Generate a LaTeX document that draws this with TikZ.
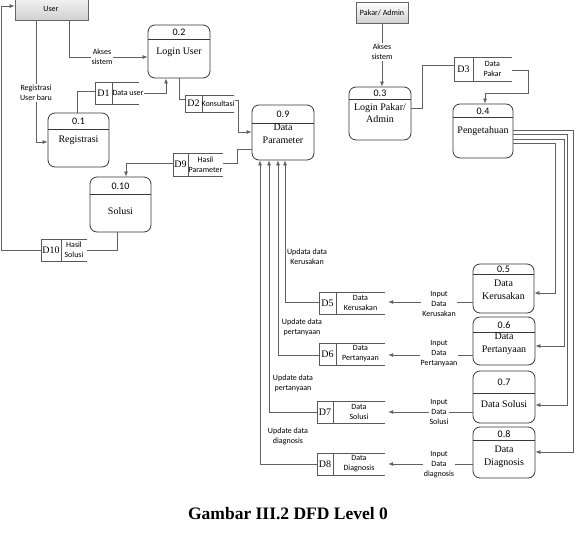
\documentclass[tikz,border=0pt]{standalone}
\usepackage{fontspec}
\setmainfont{Liberation Serif}
\newfontfamily\lblfont{Carlito}
\usetikzlibrary{arrows.meta,fit}
\tikzset{
  ln/.style={draw=black!62, line width=0.7pt},
  arr/.style={ln, -{Latex[length=5pt,width=4pt]}},
  procbox/.style={draw=black!78, line width=0.8pt, rounded corners=7pt, inner sep=0pt},
  hdr/.style={draw=black!78, line width=0.6pt},
  storeln/.style={draw=black!65, line width=0.7pt},
  numtxt/.style={font=\lblfont\fontsize{10}{12}\selectfont, inner sep=0pt},
  ptxt/.style={font=\fontsize{10}{12.5}\selectfont, align=center, inner sep=0pt},
  lbl/.style={font=\lblfont\fontsize{8}{10}\selectfont, align=center, inner sep=1pt, fill=white},
  lblnf/.style={font=\lblfont\fontsize{8}{10}\selectfont, align=center, inner sep=1pt},
  sid/.style={font=\fontsize{10}{12}\selectfont, inner sep=0pt},
  stxt/.style={font=\lblfont\fontsize{8}{10}\selectfont, align=center, inner sep=0pt},
  ext/.style={draw=black!60, line width=0.8pt, top color=white, bottom color=black!18, inner sep=0pt}
}
\newcommand\procnode[9]{%
  \node[procbox, fit={(#2,#3)(#4,#5)}] (#1) {};
  \draw[hdr] (#2,#6) -- (#4,#6);
  \node[numtxt] (#1n) at ({(#2+#4)/2},{(#3+#6)/2+0.5}) {#7};
  \node[ptxt] (#1t) at ({(#2+#4)/2},#9) {#8};
}
\newcommand\storenode[9]{%
  \node[inner sep=0pt, fit={(#2,#3)(#4,#5)}] (#1) {};
  \draw[storeln] (#4,#3) -- (#2,#3) -- (#2,#5) -- (#4,#5);
  \draw[storeln] (#6,#3) -- (#6,#5);
  \node[sid] (#1i) at ({(#2+#6)/2},{(#3+#5)/2}) {#7};
  \node[stxt] (#1t) at (#9,{(#3+#5)/2}) {#8};
}
\begin{document}
\begin{tikzpicture}[x=1pt,y=-1pt]
\useasboundingbox[fill=white] (0,0) rectangle (577,533);

% external entities
\node[ext, fit={(15,-10)(88,20)}] (user) {};
\node[stxt] (usert) at (51,9) {User};
\node[ext, fit={(356,2)(408,23)}] (pakar) {};
\node[stxt] (pakart) at (382,12.5) {Pakar/ Admin};

% processes
\procnode{p01}{48}{113}{109}{167}{129}{0.1}{Registrasi}{140}
\procnode{p02}{148}{25}{210}{78}{39}{0.2}{Login User}{52}
\procnode{p09}{252}{105}{314}{160}{123}{0.9}{Data\\Parameter}{134}
\procnode{p10}{90}{177}{151}{232}{194}{0.10}{Solusi}{211}
\procnode{p03}{349}{87}{411}{140}{99}{0.3}{Login Pakar/\\Admin}{113}
\procnode{p04}{453}{104}{513}{158}{117}{0.4}{Pengetahuan}{131}
\procnode{p05}{473}{264}{534}{313}{274}{0.5}{Data\\Kerusakan}{290}
\procnode{p06}{473}{317}{535}{365}{332}{0.6}{Data\\Pertanyaan}{344}
\procnode{p07}{473}{371}{535}{423}{393}{0.7}{Data Solusi}{404}
\procnode{p08}{473}{427}{535}{478}{440}{0.8}{Data\\Diagnosis}{457}

% data stores
\storenode{D1}{95}{82}{139}{104}{112}{D1}{Data user}{128}
\storenode{D2}{185}{95}{234}{112}{202}{D2}{Konsultasi}{218}
\storenode{D3}{454}{57}{512}{81}{473}{D3}{Data\\Pakar}{492.5}
\storenode{D9}{173}{153}{223}{176}{188}{D9}{Hasil\\Parameter}{205.5}
\storenode{D10}{41}{239}{87}{261}{61}{D10}{Hasil\\Solusi}{74}
\storenode{D5}{319}{292}{385}{314}{336}{D5}{Data\\Kerusakan}{360.5}
\storenode{D6}{319}{343}{385}{365}{336}{D6}{Data\\Pertanyaan}{360.5}
\storenode{D7}{317}{401}{385}{423}{333}{D7}{Data\\Solusi}{359}
\storenode{D8}{317}{453}{385}{475}{333}{D8}{Data\\Diagnosis}{359}

% left part connectors
\draw[arr] (user.south -| 69,0) |- (p02.west |- 0,57);
\node[lbl] (l1) at (102,57) {Akses\\sistem};
\draw[arr] (user.south -| 36,0) |- (p01.west |- 0,142);
\node[lbl] (l2) at (36,93) {Registrasi\\User baru};
\draw[ln] (p01.north -| 77,0) |- (D1.west |- 0,91);
\draw[arr] (D1t.east |- 0,93) -| (p02.south -| 166,0);
\draw[ln] (p02.south -| 179,0) |- (D2.west |- 0,99);
\draw[arr] (D2t.east |- 0,100) -- (238,100) |- (p09.west |- 0,132);
\draw[ln] (p09.west |- 0,149) -- (237,149) |- (D9.east |- 0,163);
\draw[arr] (D9.west |- 0,163) -| (p10.north -| 126,0);
\draw[ln] (p10.south -| 117,0) |- (D10.east |- 0,250);
\draw[arr] (D10.west |- 0,250) -- (1,250) |- (user.west |- 0,6);

% right part connectors
\draw[arr] (pakar.south) -- (p03.north -| pakar.south);
\node[lbl] (l3) at (382,52) {Akses\\sistem};
\draw[ln] (p03.east |- 0,108) -- (422,108) |- (D3.west |- 0,65);
\draw[arr] (D3.east |- 0,70) -- (528,70) |- (485,93) -- (p04.north -| 485,0);
\draw[arr] (p04.east |- 0,143) -- (555,143) |- (p05.east |- 0,293);
\draw[arr] (p04.east |- 0,139) -- (564,139) |- (p06.east |- 0,346);
\draw[arr] (p04.east |- 0,134) -- (567,134) |- (p07.east |- 0,405);
\draw[arr] (p04.east |- 0,130) -- (573,130) |- (p08.east |- 0,452);

\draw[arr] (p05.west |- 0,302) -- ([xshift=3pt]D5.east |- 0,302);
\node[lbl] (l4) at (439,304) {Input\\Data\\Kerusakan};
\draw[arr] (p06.west |- 0,355) -- ([xshift=3pt]D6.east |- 0,355);
\node[lbl] (l5) at (439,354) {Input\\Data\\Pertanyaan};
\draw[arr] (p07.west |- 0,412) -- ([xshift=3pt]D7.east |- 0,412);
\node[lbl] (l6) at (439,412) {Input\\Data\\Solusi};
\draw[arr] (p08.west |- 0,464) -- ([xshift=3pt]D8.east |- 0,464);
\node[lbl] (l7) at (439,465) {Input\\Data\\diagnosis};

\draw[arr] (D5.west |- 0,302) -| (p09.south -| 285,0);
\draw[arr] (D6.west |- 0,355) -| (p09.south -| 278,0);
\draw[arr] (D7.west |- 0,412) -| (p09.south -| 269,0);
\draw[arr] (D8.west |- 0,464) -| (p09.south -| 260,0);
\node[lblnf] (l8) at (307,257) {Updata data\\Kerusakan};
\node[lblnf] (l9) at (302,327) {Update data\\pertanyaan};
\node[lblnf] (l10) at (293,383) {Update data\\pertanyaan};
\node[lblnf] (l11) at (288,436) {Update data\\diagnosis};

\node[font=\bfseries\fontsize{17.5}{20}\selectfont, inner sep=0pt] (cap) at (288,514) {Gambar III.2 DFD Level 0};
\end{tikzpicture}
\end{document}
